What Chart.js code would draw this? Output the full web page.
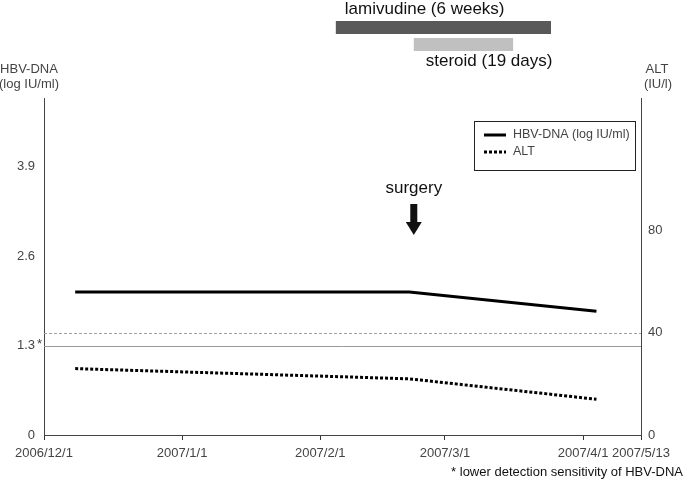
<!DOCTYPE html>
<html>
<head>
<meta charset="utf-8">
<script src="https://cdn.jsdelivr.net/npm/chart.js@4/dist/chart.umd.min.js"></script>
<style>
  body { margin: 0; background: #fff; }
  #wrap { width: 685px; height: 482px; }
</style>
</head>
<body>
<div id="wrap"><canvas id="course-chart"></canvas></div>
<script>
// days counted from 2006/12/1
const tickDays = [0, 31, 62, 90, 121, 134];
const tickLabels = ['2006/12/1', '2007/1/1', '2007/2/1', '2007/3/1', '2007/4/1', '2007/5/13'];

const measureDays = [7, 82, 124];
const hbvDna = [2.08, 2.08, 1.8];
const alt = [26, 22, 14];

const hbvTicks = [0, 1.3, 2.6, 3.9];
const altTicks = [0, 40, 80];
const hbvDetectionLimit = 1.3;
const altUpperLimit = 40;

const treatmentNames = ['lamivudine (6 weeks)', 'steroid (19 days)'];
const treatmentStart = [65.5, 83];
const treatmentEnd = [113.8, 105.3];
const surgeryDay = 83;

const FONT = '"Liberation Sans", Arial, sans-serif';
const GREY = '#444';

const points = vals => measureDays.map((d, i) => ({ x: d, y: vals[i] }));

const extras = {
  id: 'extras',
  beforeDatasetsDraw(chart) {
    const { ctx, chartArea: a, scales } = chart;
    ctx.save();
    ctx.lineWidth = 1;
    ctx.strokeStyle = '#a0a0a0';
    ctx.setLineDash([3, 2]);
    let y = Math.round(scales.y1.getPixelForValue(altUpperLimit)) + 0.5;
    ctx.beginPath(); ctx.moveTo(a.left, y); ctx.lineTo(a.right, y); ctx.stroke();
    ctx.setLineDash([]);
    ctx.strokeStyle = '#999';
    y = Math.round(scales.y.getPixelForValue(hbvDetectionLimit)) + 0.5;
    ctx.beginPath(); ctx.moveTo(a.left, y); ctx.lineTo(a.right, y); ctx.stroke();
    ctx.restore();
  },
  afterDraw(chart) {
    const { ctx, scales } = chart;
    const x = scales.x;
    ctx.save();

    // treatment bars above the plot
    const barTop = [21, 38];
    const barColor = ['#595959', '#c0c0c0'];
    const textY = [9, 61];
    const textOff = [9, 12];
    treatmentNames.forEach((name, i) => {
      const x0 = x.getPixelForValue(treatmentStart[i]);
      const x1 = x.getPixelForValue(treatmentEnd[i]);
      ctx.fillStyle = barColor[i];
      ctx.fillRect(x0, barTop[i], x1 - x0, 13);
      ctx.fillStyle = '#111';
      ctx.font = '17px ' + FONT;
      ctx.textAlign = 'left';
      ctx.textBaseline = 'middle';
      ctx.fillText(name, x0 + textOff[i], textY[i]);
    });

    // surgery arrow
    const sx = x.getPixelForValue(surgeryDay);
    ctx.fillStyle = '#111';
    ctx.textAlign = 'center';
    ctx.fillText('surgery', sx, 188);
    ctx.fillRect(sx - 3.5, 204, 7, 19);
    ctx.beginPath();
    ctx.moveTo(sx - 8, 222); ctx.lineTo(sx + 8, 222); ctx.lineTo(sx, 235);
    ctx.closePath(); ctx.fill();

    // axis titles
    ctx.font = '13px ' + FONT;
    ctx.fillStyle = GREY;
    ctx.fillText('HBV-DNA', 29, 69);
    ctx.fillText('(log IU/ml)', 29, 84);
    ctx.fillText('ALT', 657, 69);
    ctx.fillText('(IU/l)', 658, 84);

    // asterisk for detection limit
    ctx.textAlign = 'left';
    ctx.fillText('*', 37, scales.y.getPixelForValue(hbvDetectionLimit) - 1);

    // footnote
    ctx.textAlign = 'right';
    ctx.fillStyle = '#111';
    ctx.fillText('* lower detection sensitivity of HBV-DNA', 683, 472);

    // legend box
    ctx.strokeStyle = '#222';
    ctx.lineWidth = 1;
    ctx.strokeRect(474.5, 121.5, 161, 49);
    const rows = [135, 152];
    chart.data.datasets.forEach((ds, i) => {
      ctx.strokeStyle = ds.borderColor;
      ctx.lineWidth = ds.borderWidth;
      ctx.setLineDash(ds.borderDash || []);
      ctx.beginPath(); ctx.moveTo(484, rows[i]); ctx.lineTo(506, rows[i]); ctx.stroke();
      ctx.setLineDash([]);
      ctx.fillStyle = GREY;
      ctx.font = '12.5px ' + FONT;
      ctx.textAlign = 'left';
      ctx.fillText(ds.label, 513, rows[i]);
    });
    ctx.restore();
  }
};

const chart = new Chart(document.getElementById('course-chart'), {
  type: 'line',
  data: {
    datasets: [
      {
        label: 'HBV-DNA (log IU/ml)',
        data: points(hbvDna),
        yAxisID: 'y',
        borderColor: '#000',
        borderWidth: 3,
        pointRadius: 0,
        tension: 0
      },
      {
        label: 'ALT',
        data: points(alt),
        yAxisID: 'y1',
        borderColor: '#000',
        borderWidth: 3,
        borderDash: [3, 2],
        pointRadius: 0,
        tension: 0
      }
    ]
  },
  options: {
    responsive: true,
    maintainAspectRatio: false,
    animation: false,
    layout: { padding: { top: 98 } },
    plugins: {
      legend: { display: false },
      tooltip: { enabled: false }
    },
    scales: {
      x: {
        type: 'linear',
        min: tickDays[0],
        max: tickDays[tickDays.length - 1],
        afterBuildTicks: s => { s.ticks = tickDays.map(v => ({ value: v })); },
        afterFit: s => { s.height = 47; },
        ticks: {
          autoSkip: false,
          maxRotation: 0,
          padding: 6,
          color: GREY,
          font: { family: FONT, size: 13 },
          callback: (v, i) => tickLabels[i]
        },
        grid: { drawOnChartArea: false, tickLength: 5, color: '#333' },
        border: { color: '#444' }
      },
      y: {
        position: 'left',
        min: 0,
        max: 4.9,
        afterBuildTicks: s => { s.ticks = hbvTicks.map(v => ({ value: v })); },
        afterFit: s => { s.width = 44; },
        ticks: {
          padding: 9,
          color: GREY,
          font: { family: FONT, size: 13 },
          callback: v => (v === 0 ? '0' : v.toFixed(1))
        },
        grid: { display: false, drawTicks: false },
        border: { display: true, color: '#444' }
      },
      y1: {
        position: 'right',
        min: 0,
        max: 132,
        afterBuildTicks: s => { s.ticks = altTicks.map(v => ({ value: v })); },
        afterFit: s => { s.width = 44; },
        ticks: {
          padding: 7,
          color: GREY,
          font: { family: FONT, size: 13 }
        },
        grid: { display: false, drawTicks: false },
        border: { display: true, color: '#444' }
      }
    }
  },
  plugins: [extras]
});
</script>
</body>
</html>
